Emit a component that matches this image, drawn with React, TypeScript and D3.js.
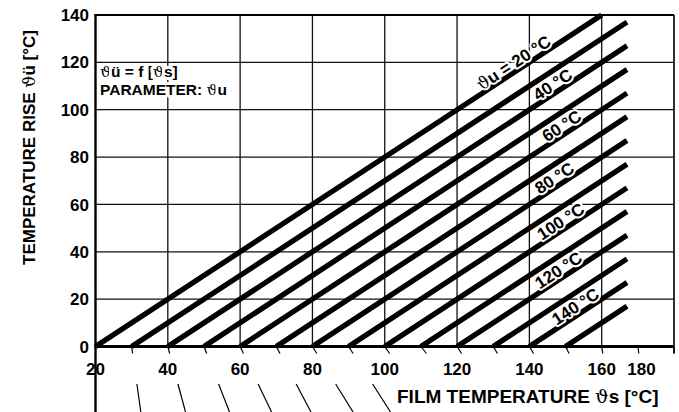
import React, { useEffect, useRef } from 'react';
import * as d3 from 'd3';

// film temperature axis (ϑs) and temperature rise axis (ϑü)
const xGridValues = [40, 60, 80, 100, 120, 140, 160];
const yGridValues = [20, 40, 60, 80, 100, 120];
const xTickValues = [20, 40, 60, 80, 100, 120, 140, 160, 171];
const xTickLabels = ['20', '40', '60', '80', '100', '120', '140', '160', '180'];
const yTickValues = [0, 20, 40, 60, 80, 100, 120, 140];

// parameter lines: ϑü = ϑs - ϑu, one every 10 °C
const lineStarts = [20, 30, 40, 50, 60, 70, 80, 90, 100, 110, 120, 130, 140, 150];
const lineEnd = 167;

// labelled parameters and where along ϑs the label sits
const paramValues = [20, 40, 60, 80, 100, 120, 140];
const paramLabelAt = [136.9, 147.7, 150.2, 148.2, 149.9, 149.3, 154.0];

// slanted marks under the axis (skewed scale of the original)
const fanValues = [30, 40, 50, 60, 70, 80, 90, 100, 110, 120, 130, 140, 150, 160, 170, 180];
const fanSlants = [0.14, 0.27, 0.39, 0.48, 0.53, 0.62, 0.64, 0.7, 0.8, 0.65, 0.6, 0.6, 0.5, 0.15, 0.15, 0];
const fanLong = [30, 40, 50, 60, 70, 80, 90];

const FONT = '"Liberation Sans", Arial, Helvetica, sans-serif';
const THETA_FONT = '"DejaVu Serif", serif';

const App: React.FC = () => {
  const svgRef = useRef<SVGSVGElement>(null);

  useEffect(() => {
    if (!svgRef.current) return;
    const width = 679;
    const height = 412;

    const svg = d3.select(svgRef.current)
      .attr('width', width)
      .attr('height', height)
      .style('display', 'block')
      .style('background', '#fff');
    svg.selectAll('*').remove();

    const x = d3.scaleLinear().domain([20, 180]).range([95.5, 674]);
    const y = d3.scaleLinear().domain([0, 140]).range([346.5, 15]);

    // grid
    svg.append('g')
      .selectAll('line')
      .data(xGridValues)
      .enter()
      .append('line')
      .attr('x1', d => x(d)).attr('x2', d => x(d))
      .attr('y1', y(140)).attr('y2', y(0))
      .attr('stroke', '#111')
      .attr('stroke-width', 1.3);

    svg.append('g')
      .selectAll('line')
      .data(yGridValues)
      .enter()
      .append('line')
      .attr('x1', x(20)).attr('x2', x(180))
      .attr('y1', d => y(d)).attr('y2', d => y(d))
      .attr('stroke', '#111')
      .attr('stroke-width', 1.3);

    // frame
    svg.append('line').attr('x1', x(20) - 1).attr('x2', x(180)).attr('y1', y(140)).attr('y2', y(140))
      .attr('stroke', '#000').attr('stroke-width', 2.2);
    svg.append('line').attr('x1', x(180)).attr('x2', x(180)).attr('y1', y(140)).attr('y2', y(0) + 7)
      .attr('stroke', '#000').attr('stroke-width', 1.6);
    svg.append('line').attr('x1', x(20)).attr('x2', x(20)).attr('y1', y(140) - 1).attr('y2', height)
      .attr('stroke', '#000').attr('stroke-width', 2.4);
    svg.append('line').attr('x1', x(20) - 1).attr('x2', x(180)).attr('y1', y(0)).attr('y2', y(0))
      .attr('stroke', '#000').attr('stroke-width', 2.8);

    // fan marks under the axis
    const fan = svg.append('g').attr('stroke', '#000').attr('stroke-width', 1.2);
    const y0 = y(0);
    fanValues.forEach((v, i) => {
      const s = fanSlants[i];
      fan.append('line')
        .attr('x1', x(v)).attr('y1', y0)
        .attr('x2', x(v) + s * 7).attr('y2', y0 + 7);
      if (fanLong.includes(v)) {
        fan.append('line')
          .attr('x1', x(v) + s * (384 - y0)).attr('y1', 384)
          .attr('x2', x(v) + s * (height - y0)).attr('y2', height);
      }
    });

    // parameter lines
    const line = d3.line<[number, number]>().x(d => x(d[0])).y(d => y(d[1]));
    svg.append('g')
      .selectAll('path')
      .data(lineStarts)
      .enter()
      .append('path')
      .attr('d', s => {
        const end = Math.min(lineEnd, s + 140);
        return line([[s, 0], [end, end - s]]);
      })
      .attr('fill', 'none')
      .attr('stroke', '#000')
      .attr('stroke-width', 5.3);

    // labels on the lines
    const angle = Math.atan2(y(140) - y(0), x(160) - x(20)) * 180 / Math.PI;
    paramValues.forEach((u, i) => {
      const at = paramLabelAt[i];
      const t = svg.append('text')
        .attr('transform', `translate(${x(at)},${y(at - u)}) rotate(${angle})`)
        .attr('y', -2.4)
        .attr('text-anchor', 'middle')
        .attr('font-family', FONT)
        .attr('font-size', 17)
        .attr('font-weight', 700)
        .attr('fill', '#000')
        .attr('stroke', '#fff')
        .attr('stroke-width', 4)
        .attr('stroke-linejoin', 'round')
        .style('paint-order', 'stroke');
      if (i === 0) {
        t.append('tspan').attr('font-family', THETA_FONT).attr('font-weight', 400).text('ϑ');
        t.append('tspan').text(`u = ${u} °C`);
      } else {
        t.append('tspan').text(`${u} °C`);
      }
    });

    // tick labels
    svg.append('g')
      .selectAll('text')
      .data(yTickValues)
      .enter()
      .append('text')
      .attr('x', 89)
      .attr('y', d => y(d))
      .attr('dy', '0.36em')
      .attr('text-anchor', 'end')
      .attr('font-family', FONT)
      .attr('font-size', 17)
      .attr('font-weight', 700)
      .text(d => String(d));

    svg.append('g')
      .selectAll('text')
      .data(xTickValues)
      .enter()
      .append('text')
      .attr('x', d => x(d))
      .attr('y', 375)
      .attr('text-anchor', 'middle')
      .attr('font-family', FONT)
      .attr('font-size', 17)
      .attr('font-weight', 700)
      .text((d, i) => xTickLabels[i]);

    // annotation
    const note = svg.append('g')
      .attr('font-family', FONT)
      .attr('font-size', 15.5)
      .attr('font-weight', 700)
      .attr('fill', '#000')
      .attr('stroke', '#fff')
      .attr('stroke-width', 6)
      .attr('stroke-linejoin', 'round')
      .style('paint-order', 'stroke');
    const n1 = note.append('text').attr('x', 100).attr('y', 77);
    n1.append('tspan').attr('font-family', THETA_FONT).attr('font-weight', 400).text('ϑ');
    n1.append('tspan').text('ü = f [');
    n1.append('tspan').attr('font-family', THETA_FONT).attr('font-weight', 400).text('ϑ');
    n1.append('tspan').text('s]');
    const n2 = note.append('text').attr('x', 100).attr('y', 95);
    n2.append('tspan').text('PARAMETER: ');
    n2.append('tspan').attr('font-family', THETA_FONT).attr('font-weight', 400).text('ϑ');
    n2.append('tspan').text('u');

    // axis titles
    const xt = svg.append('text')
      .attr('x', 397)
      .attr('y', 403)
      .attr('font-family', FONT)
      .attr('font-size', 19)
      .attr('font-weight', 700)
      .attr('fill', '#000');
    xt.append('tspan').text('FILM TEMPERATURE ');
    xt.append('tspan').attr('font-family', THETA_FONT).attr('font-weight', 400).text('ϑ');
    xt.append('tspan').text('s [°C]');

    const yt = svg.append('text')
      .attr('transform', `translate(35,${147.5}) rotate(-90)`)
      .attr('text-anchor', 'middle')
      .attr('font-family', FONT)
      .attr('font-size', 17)
      .attr('font-weight', 700)
      .attr('fill', '#000');
    yt.append('tspan').text('TEMPERATURE RISE ');
    yt.append('tspan').attr('font-family', THETA_FONT).attr('font-weight', 400).text('ϑ');
    yt.append('tspan').text('ü [°C]');
  }, []);

  return (
    <div>
      <style>{`body { margin: 0; }`}</style>
      <svg ref={svgRef} />
    </div>
  );
};

export default App;
